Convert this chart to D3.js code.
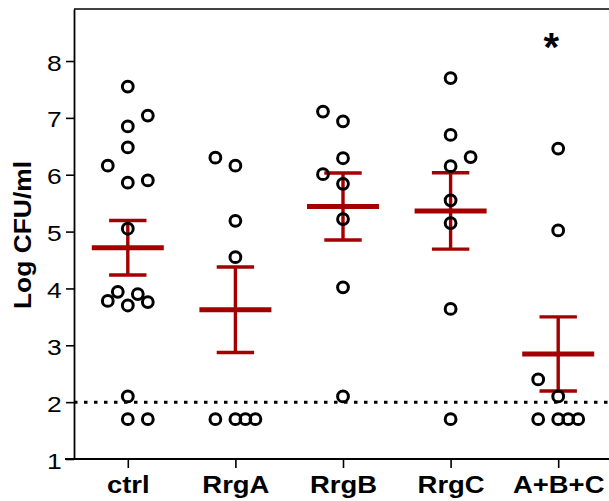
<!DOCTYPE html>
<html>
<head>
<meta charset="utf-8">
<script src="https://cdn.jsdelivr.net/npm/d3@7"></script>
<style>
  html, body { margin: 0; padding: 0; background: #fff; }
  svg { display: block; }
</style>
</head>
<body>
<svg id="chart" width="609" height="501"></svg>
<script>
// ---- Data ----
const categories = ["ctrl", "RrgA", "RrgB", "RrgC", "A+B+C"];

const ctrlValues = [7.55, 7.04, 6.85, 6.48, 6.16, 5.86, 5.90, 5.05, 3.78, 3.94, 3.70, 3.90, 3.76, 2.10, 1.70, 1.70];
const ctrlCols   = [0, 2, 0, 0, -2, 0, 2, 0, -2, -1, 0, 1, 2, 0, 0, 2];

const rrgAValues = [6.30, 6.16, 5.19, 4.55, 1.70, 1.70, 1.70, 1.70];
const rrgACols   = [-2, 0, 0, 0, -2, 0, 1, 2];

const rrgBValues = [7.11, 6.94, 6.29, 6.01, 5.84, 5.22, 4.02, 2.10];
const rrgBCols   = [-2, 0, 0, -2, 0, 0, 0, 0];

const rrgCValues = [7.70, 6.70, 6.31, 6.15, 5.55, 5.15, 3.64, 1.70];
const rrgCCols   = [0, 0, 2, 0, 0, 0, 0, 0];

const abcValues  = [6.46, 5.02, 2.40, 2.10, 1.70, 1.70, 1.70, 1.70];
const abcCols    = [0, 0, -2, 0, -2, 0, 1, 2];

const groupValues = [ctrlValues, rrgAValues, rrgBValues, rrgCValues, abcValues];
const groupCols   = [ctrlCols, rrgACols, rrgBCols, rrgCCols, abcCols];

const yTicks = [1, 2, 3, 4, 5, 6, 7, 8];
const detectionLimit = 2;
const yLabel = "Log CFU/ml";
const significance = [{ category: "A+B+C", label: "*" }];

// ---- Layout ----
const W = 609, H = 501;
const mLeft = 74, mTop = 9, mBottom = 459, rightEnd = 612;
const red = "#a30000";
const fontFamily = "'Liberation Sans', Arial, Helvetica, sans-serif";

const svg = d3.select("#chart");

const x = d3.scalePoint().domain(categories).range([mLeft, rightEnd]).padding(0.5);
const y = d3.scaleLinear().domain([1, 8.915]).range([mBottom, mTop]);
const dodge = x.step() * 0.093;

// frame: top line
svg.append("line")
  .attr("x1", mLeft).attr("x2", W).attr("y1", mTop).attr("y2", mTop)
  .attr("stroke", "#000").attr("stroke-width", 1.6);

// y axis
const yAxis = svg.append("g")
  .attr("transform", `translate(${mLeft},0)`)
  .call(d3.axisLeft(y).tickValues(yTicks).tickSize(8).tickSizeOuter(0).tickFormat(d3.format("d")));
yAxis.select(".domain").attr("stroke", "#000").attr("stroke-width", 1.8);
yAxis.selectAll(".tick line").attr("stroke", "#000").attr("stroke-width", 1.6);
yAxis.selectAll(".tick text")
  .attr("x", null).attr("dy", null)
  .attr("transform", "translate(-12.3,9) scale(1.2,1)")
  .attr("fill", "#000")
  .style("font-family", fontFamily)
  .style("font-size", "22px");

// x axis
const xAxis = svg.append("g")
  .attr("transform", `translate(0,${mBottom})`)
  .call(d3.axisBottom(x).tickSize(9).tickSizeOuter(0));
xAxis.select(".domain").remove();
xAxis.append("line")
  .attr("x1", mLeft - 9).attr("x2", W).attr("y1", 0).attr("y2", 0)
  .attr("stroke", "#000").attr("stroke-width", 1.8);
xAxis.selectAll(".tick line").attr("stroke", "#000").attr("stroke-width", 1.6);
xAxis.selectAll(".tick text")
  .attr("y", null).attr("dy", null)
  .attr("transform", "translate(0,34) scale(1.12,1)")
  .attr("fill", "#000")
  .style("font-family", fontFamily)
  .style("font-weight", "bold")
  .style("font-size", "24.5px");

// y label
svg.append("text")
  .attr("transform", `translate(31,235) rotate(-90) scale(1.1,1)`)
  .attr("text-anchor", "middle")
  .style("font-family", fontFamily)
  .style("font-weight", "bold")
  .style("font-size", "24px")
  .attr("fill", "#000")
  .text(yLabel);

// detection limit dotted line
svg.append("line")
  .attr("x1", mLeft).attr("x2", W)
  .attr("y1", y(detectionLimit)).attr("y2", y(detectionLimit))
  .attr("stroke", "#000").attr("stroke-width", 3)
  .attr("stroke-dasharray", "3.5,6.5");

// mean +/- SEM
const stats = categories.map((c, i) => {
  const v = groupValues[i];
  const m = d3.mean(v);
  const sem = d3.deviation(v) / Math.sqrt(v.length);
  return { c, m, sem };
});
const errG = svg.append("g");
stats.forEach(s => {
  const cx = x(s.c);
  errG.append("line")
    .attr("x1", cx).attr("x2", cx).attr("y1", y(s.m - s.sem)).attr("y2", y(s.m + s.sem))
    .attr("stroke", red).attr("stroke-width", 3.4);
  [s.m - s.sem, s.m + s.sem].forEach(v => {
    errG.append("line")
      .attr("x1", cx - 18.7).attr("x2", cx + 18.7).attr("y1", y(v)).attr("y2", y(v))
      .attr("stroke", red).attr("stroke-width", 3.4);
  });
  errG.append("line")
    .attr("x1", cx - 36).attr("x2", cx + 36).attr("y1", y(s.m)).attr("y2", y(s.m))
    .attr("stroke", red).attr("stroke-width", 5);
});

// points
const pts = [];
categories.forEach((c, i) => {
  groupValues[i].forEach((v, j) => pts.push({ c, v, col: groupCols[i][j] }));
});
svg.append("g").selectAll("circle").data(pts).join("circle")
  .attr("cx", d => x(d.c) + d.col * dodge)
  .attr("cy", d => y(d.v))
  .attr("r", 5.4)
  .attr("fill", "none")
  .attr("stroke", "#000")
  .attr("stroke-width", 3);

// significance marker
svg.append("g").selectAll("text").data(significance).join("text")
  .attr("x", d => x(d.category) - 7)
  .attr("y", 61)
  .attr("text-anchor", "middle")
  .style("font-family", fontFamily)
  .style("font-weight", "bold")
  .style("font-size", "40px")
  .attr("fill", "#000")
  .text(d => d.label);
</script>
</body>
</html>
